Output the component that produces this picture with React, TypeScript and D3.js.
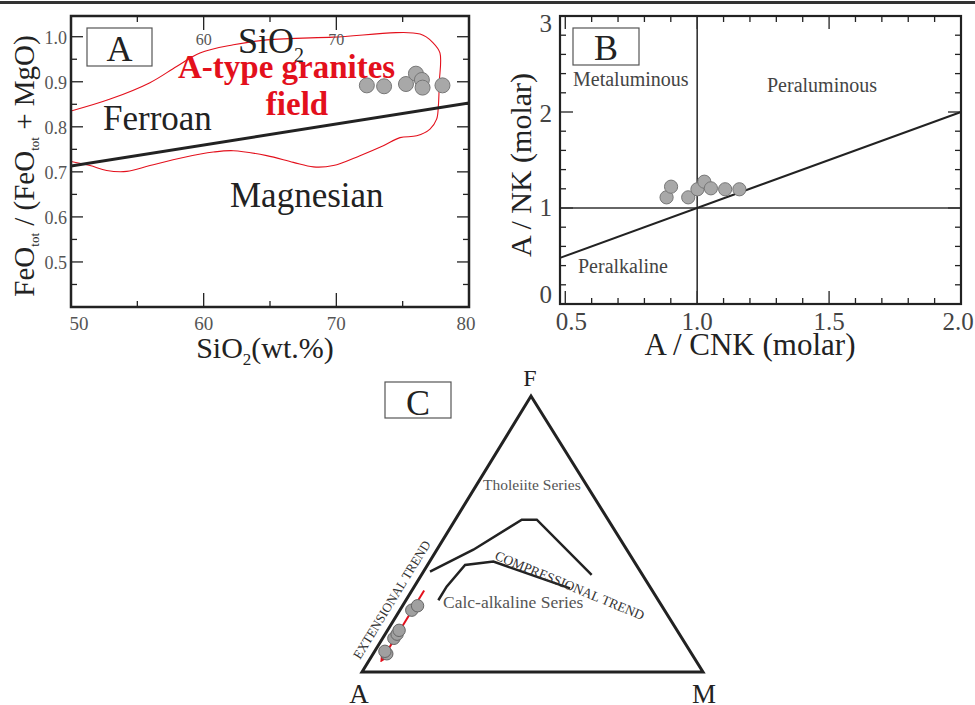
import React from "react";
import * as d3 from "d3";

const FONT = '"Liberation Serif", "Times New Roman", Times, serif';
const INK = "#222";
const GREY_TEXT = "#555";
const RED = "#e3101c";

// ---- Panel A: FeOtot/(FeOtot+MgO) vs SiO2 ----
const aSiO2 = [72.3, 73.6, 75.25, 76.0, 76.45, 76.5, 78.0];
const aFeRatio = [0.892, 0.89, 0.895, 0.918, 0.904, 0.887, 0.892];
// Ferroan / magnesian boundary
const boundarySiO2 = [50, 80];
const boundaryFeRatio = [0.713, 0.853];
// A-type granite field outline
const fieldSiO2 = [50, 52.9, 55.95, 57.96, 59.72, 62.24, 64.75, 69.77, 76.31, 77.31, 77.81, 77.76, 77.69, 77.56, 77.06, 76.06, 74.8, 73.54, 71.78, 69.77, 68.27, 66.76, 64.75, 62.24, 60.73, 58.47, 55.95, 54.2, 52.69, 51.43, 50];
const fieldFeRatio = [0.835, 0.861, 0.898, 0.934, 0.964, 0.982, 0.993, 0.999, 1.006, 0.986, 0.964, 0.898, 0.846, 0.817, 0.795, 0.78, 0.776, 0.758, 0.736, 0.714, 0.711, 0.721, 0.736, 0.747, 0.744, 0.732, 0.714, 0.701, 0.703, 0.714, 0.723];
const aXTicks = [50, 60, 70, 80];
const aYTicks = [0.5, 0.6, 0.7, 0.8, 0.9, 1.0];
const aTopTicks = [60, 70];

// ---- Panel B: A/NK vs A/CNK ----
const bACNK = [0.884, 0.901, 0.966, 1.001, 1.027, 1.052, 1.106, 1.16];
const bANK = [1.111, 1.222, 1.111, 1.195, 1.274, 1.205, 1.195, 1.195];
const bXTicks = [0.5, 1.0, 1.5, 2.0];
const bYTicks = [0, 1, 2, 3];
const bDiagonal = [0.48, 2.0];

// ---- Panel C: AFM ternary (A, F, M in %) ----
const tholeiiteA = [61.7, 45.0, 25.3, 20.9, 14.9];
const tholeiiteF = [36.4, 44.3, 55.2, 55.2, 35.2];
const tholeiiteM = [1.9, 10.7, 19.5, 23.9, 49.9];
const compressA = [64.5, 59.6, 50.2, 41.3, 23.7];
const compressF = [26.0, 30.9, 38.8, 40.0, 30.3];
const compressM = [9.5, 9.5, 11.0, 18.7, 46.0];
const cA = [89.4, 89.5, 84.5, 82.8, 81.5, 74.1, 71.6];
const cF = [6.6, 7.5, 12.2, 13.7, 15.1, 22.4, 24.0];
const cM = [4.0, 3.0, 3.3, 3.5, 3.4, 3.5, 4.4];
const trendA = [66.9, 92.0];
const trendF = [29.5, 4.35];
const trendM = [3.6, 3.65];

function range(a: number, b: number, s: number) {
  return d3.range(a, b + s / 2, s).map((v) => +v.toFixed(4));
}

function PanelA() {
  const x = d3.scaleLinear().domain([50, 80]).range([71, 469]);
  const y = d3.scaleLinear().domain([0.4, 1.046]).range([307, 16]);
  const [x0, x1] = x.range();
  const [y0, y1] = y.range();
  const line = d3.line<[number, number]>().x((d) => x(d[0])).y((d) => y(d[1]));
  const field = d3
    .line<[number, number]>()
    .x((d) => x(d[0]))
    .y((d) => y(d[1]))
    .curve(d3.curveCatmullRom.alpha(0.5));
  const fieldPts = fieldSiO2.map((v, i) => [v, fieldFeRatio[i]] as [number, number]);
  const bPts = boundarySiO2.map((v, i) => [v, boundaryFeRatio[i]] as [number, number]);
  const xt = range(50, 80, 5);
  const yt = range(0.45, 1.0, 0.05);
  return (
    <g>
      <defs>
        <clipPath id="clipA">
          <rect x={x0} y={y1} width={x1 - x0} height={y0 - y1} />
        </clipPath>
      </defs>
      <g clipPath="url(#clipA)">
        <path d={field(fieldPts) || ""} fill="none" stroke={RED} strokeWidth={1.1} />
        <path d={line(bPts) || ""} fill="none" stroke={INK} strokeWidth={3} />
      </g>
      {/* ticks */}
      {xt.map((v) => {
        const L = v % 10 === 0 ? 14 : 6;
        return (
          <g key={"ax" + v} stroke={INK} strokeWidth={1.3}>
            <line x1={x(v)} x2={x(v)} y1={y0} y2={y0 - L} />
            <line x1={x(v)} x2={x(v)} y1={y1} y2={y1 + L} />
          </g>
        );
      })}
      {yt.map((v) => {
        const L = Math.abs((v * 10) % 1) < 0.01 || Math.abs((v * 10) % 1) > 0.99 ? 12 : 6;
        return (
          <g key={"ay" + v} stroke={INK} strokeWidth={1.3}>
            <line x1={x0} x2={x0 + L} y1={y(v)} y2={y(v)} />
            <line x1={x1} x2={x1 - L} y1={y(v)} y2={y(v)} />
          </g>
        );
      })}
      <rect x={x0} y={y1} width={x1 - x0} height={y0 - y1} fill="none" stroke={INK} strokeWidth={2.5} />
      {/* points */}
      {aSiO2.map((v, i) => (
        <circle key={"ap" + i} cx={x(v)} cy={y(aFeRatio[i])} r={7.5} fill="#a8a8a8" stroke="#777" strokeWidth={1} />
      ))}
      {/* tick labels */}
      {aXTicks.map((v, i) => (
        <text key={"axl" + v} x={x(v) + (i === 0 ? 8 : i === aXTicks.length - 1 ? -3 : 0)} y={330} fontSize={19} textAnchor="middle" fill={GREY_TEXT} fontFamily={FONT}>
          {v}
        </text>
      ))}
      {aYTicks.map((v) => (
        <text key={"ayl" + v} x={67} y={y(v) + 7} fontSize={18} textAnchor="end" fill={GREY_TEXT} fontFamily={FONT}>
          {v.toFixed(1)}
        </text>
      ))}
      {aTopTicks.map((v) => (
        <text key={"atl" + v} x={x(v)} y={45} fontSize={16} textAnchor="middle" fill={GREY_TEXT} fontFamily={FONT}>
          {v}
        </text>
      ))}
      {/* labels */}
      <rect x={87} y={28} width={65} height={38} fill="none" stroke="#555" strokeWidth={1.2} />
      <text x={119.5} y={61} fontSize={36} textAnchor="middle" fill={INK} fontFamily={FONT}>A</text>
      <text x={238} y={53} fontSize={36} fill={INK} fontFamily={FONT}>
        SiO<tspan fontSize={20} dy={9}>2</tspan>
      </text>
      <text x={178} y={78} fontSize={33} fontWeight="bold" fill={RED} fontFamily={FONT}>A-type granites</text>
      <text x={297} y={115} fontSize={33} fontWeight="bold" fill={RED} textAnchor="middle" fontFamily={FONT}>field</text>
      <text x={103} y={130} fontSize={35} fill={INK} fontFamily={FONT}>Ferroan</text>
      <text x={230} y={207} fontSize={35} fill={INK} fontFamily={FONT}>Magnesian</text>
      {/* axis titles */}
      <text x={265} y={358} fontSize={30} textAnchor="middle" fill={INK} fontFamily={FONT}>
        SiO<tspan fontSize={17} dy={7}>2</tspan><tspan dy={-7}>(wt.%)</tspan>
      </text>
      <text transform="translate(34,166) rotate(-90)" fontSize={29} textAnchor="middle" fill={INK} fontFamily={FONT}>
        FeO<tspan fontSize={13} dy={5}>tot</tspan><tspan dy={-5}> / (FeO</tspan><tspan fontSize={13} dy={5}>tot</tspan><tspan dy={-5}> + MgO)</tspan>
      </text>
    </g>
  );
}

function PanelB() {
  const x = d3.scaleLinear().domain([0.48, 2.0]).range([560, 961]);
  const y = d3.scaleLinear().domain([0, 3]).range([304, 16]);
  const [x0, x1] = x.range();
  const [y0, y1] = y.range();
  const xt = range(0.5, 2.0, 0.1);
  const yt = range(0, 3, 0.2);
  const yLabelShift: Record<number, number> = { 0: -1, 1: 8, 2: 10, 3: 16 };
  return (
    <g>
      {xt.map((v) => {
        const L = Math.abs((v * 2) % 1) < 0.01 || Math.abs((v * 2) % 1) > 0.99 ? 13 : 6;
        return (
          <g key={"bx" + v} stroke={INK} strokeWidth={1.3}>
            <line x1={x(v)} x2={x(v)} y1={y0} y2={y0 - L} />
            <line x1={x(v)} x2={x(v)} y1={y1} y2={y1 + L} />
          </g>
        );
      })}
      {yt.map((v) => {
        const L = Math.abs(v % 1) < 0.01 || Math.abs(v % 1) > 0.99 ? 13 : 6;
        return (
          <g key={"by" + v} stroke={INK} strokeWidth={1.3}>
            <line x1={x0} x2={x0 + L} y1={y(v)} y2={y(v)} />
            <line x1={x1} x2={x1 - L} y1={y(v)} y2={y(v)} />
          </g>
        );
      })}
      {/* reference lines */}
      <line x1={x(1)} x2={x(1)} y1={y1} y2={y0} stroke="#333" strokeWidth={1.6} />
      <line x1={x0} x2={x1} y1={y(1)} y2={y(1)} stroke="#333" strokeWidth={1.6} />
      <line x1={x(bDiagonal[0])} y1={y(bDiagonal[0])} x2={x(bDiagonal[1])} y2={y(bDiagonal[1])} stroke={INK} strokeWidth={2} />
      <rect x={x0} y={y1} width={x1 - x0} height={y0 - y1} fill="none" stroke={INK} strokeWidth={2.2} />
      {bACNK.map((v, i) => (
        <circle key={"bp" + i} cx={x(v)} cy={y(bANK[i])} r={6.6} fill="#a8a8a8" stroke="#777" strokeWidth={1} />
      ))}
      {bXTicks.map((v, i) => (
        <text key={"bxl" + v} x={x(v) + (i === 0 ? 6 : i === bXTicks.length - 1 ? -3 : 0)} y={330} fontSize={25} textAnchor="middle" fill="#444" fontFamily={FONT}>
          {v.toFixed(1)}
        </text>
      ))}
      {bYTicks.map((v) => (
        <text key={"byl" + v} x={552} y={y(v) + yLabelShift[v]} fontSize={25} textAnchor="end" fill="#444" fontFamily={FONT}>
          {v}
        </text>
      ))}
      <rect x={573} y={28} width={66} height={37} fill="none" stroke="#555" strokeWidth={1.2} />
      <text x={606} y={60} fontSize={36} textAnchor="middle" fill={INK} fontFamily={FONT}>B</text>
      <text x={573} y={86} fontSize={20} fill="#444" fontFamily={FONT}>Metaluminous</text>
      <text x={767} y={92} fontSize={20} fill="#444" fontFamily={FONT}>Peraluminous</text>
      <text x={578} y={273} fontSize={20} fill="#444" fontFamily={FONT}>Peralkaline</text>
      <text x={750} y={355} fontSize={31} textAnchor="middle" fill={INK} fontFamily={FONT}>A / CNK (molar)</text>
      <text transform="translate(531,165) rotate(-90)" fontSize={30} textAnchor="middle" fill={INK} fontFamily={FONT}>A / NK (molar)</text>
    </g>
  );
}

function PanelC() {
  const vA: [number, number] = [362, 672];
  const vF: [number, number] = [531, 396];
  const vM: [number, number] = [703, 672];
  // barycentric -> screen, via linear scales on each component
  const fx = d3.scaleLinear().domain([0, 100]).range([0, vF[0] - vA[0]]);
  const mx = d3.scaleLinear().domain([0, 100]).range([0, vM[0] - vA[0]]);
  const fy = d3.scaleLinear().domain([0, 100]).range([vA[1], vF[1]]);
  const proj = (a: number, f: number, m: number): [number, number] => {
    const s = a + f + m;
    const ff = (f / s) * 100;
    const mm = (m / s) * 100;
    return [vA[0] + fx(ff) + mx(mm), fy(ff)];
  };
  const line = d3.line<[number, number]>();
  const upper = tholeiiteA.map((a, i) => proj(a, tholeiiteF[i], tholeiiteM[i]));
  const lower = compressA.map((a, i) => proj(a, compressF[i], compressM[i]));
  const trend = trendA.map((a, i) => proj(a, trendF[i], trendM[i]));
  const pts = cA.map((a, i) => proj(a, cF[i], cM[i]));
  const edgeAngle = (Math.atan2(vF[1] - vA[1], vF[0] - vA[0]) * 180) / Math.PI;
  return (
    <g>
      <defs>
        <marker id="trendArrow" viewBox="0 0 10 10" refX={8} refY={5} markerWidth={7} markerHeight={7} orient="auto">
          <path d="M0,0 L10,5 L0,10 z" fill={RED} />
        </marker>
      </defs>
      <path d={line([vA, vF, vM]) + "Z"} fill="none" stroke={INK} strokeWidth={3} strokeLinejoin="miter" />
      <path d={line(upper) || ""} fill="none" stroke={INK} strokeWidth={2.5} />
      <path d={line(lower) || ""} fill="none" stroke={INK} strokeWidth={2.5} />
      <path d={line(trend) || ""} fill="none" stroke={RED} strokeWidth={2} markerEnd="url(#trendArrow)" />
      {pts.map((p, i) => (
        <circle key={"cp" + i} cx={p[0]} cy={p[1]} r={6.2} fill="#a0a0a0" stroke="#666" strokeWidth={1} />
      ))}
      <rect x={385} y={382} width={66} height={36} fill="none" stroke="#555" strokeWidth={1.2} />
      <text x={418} y={415} fontSize={36} textAnchor="middle" fill={INK} fontFamily={FONT}>C</text>
      <text x={530} y={386} fontSize={24} textAnchor="middle" fill={INK} fontFamily={FONT}>F</text>
      <text x={359} y={703} fontSize={27} textAnchor="middle" fill={INK} fontFamily={FONT}>A</text>
      <text x={704} y={703} fontSize={27} textAnchor="middle" fill={INK} fontFamily={FONT}>M</text>
      <text x={483} y={490} fontSize={15.5} fill={GREY_TEXT} fontFamily={FONT}>Tholeiite Series</text>
      <text x={443} y={608} fontSize={17.5} fill={GREY_TEXT} fontFamily={FONT}>Calc-alkaline Series</text>
      <text transform="translate(494,559) rotate(22.5)" fontSize={13.5} fill="#333" fontFamily={FONT}>COMPRESSIONAL TREND</text>
      <text transform={`translate(360,660) rotate(${edgeAngle})`} fontSize={13} fill="#333" fontFamily={FONT}>EXTENSIONAL TREND</text>
    </g>
  );
}

export default function App() {
  return (
    <svg
      width={975}
      height={705}
      viewBox="0 0 975 705"
      style={{ position: "absolute", left: 0, top: 0, background: "#fff" }}
    >
      <rect x={0} y={0} width={975} height={705} fill="#fff" />
      <rect x={0} y={1} width={975} height={3} fill="#333" />
      <PanelA />
      <PanelB />
      <PanelC />
    </svg>
  );
}
